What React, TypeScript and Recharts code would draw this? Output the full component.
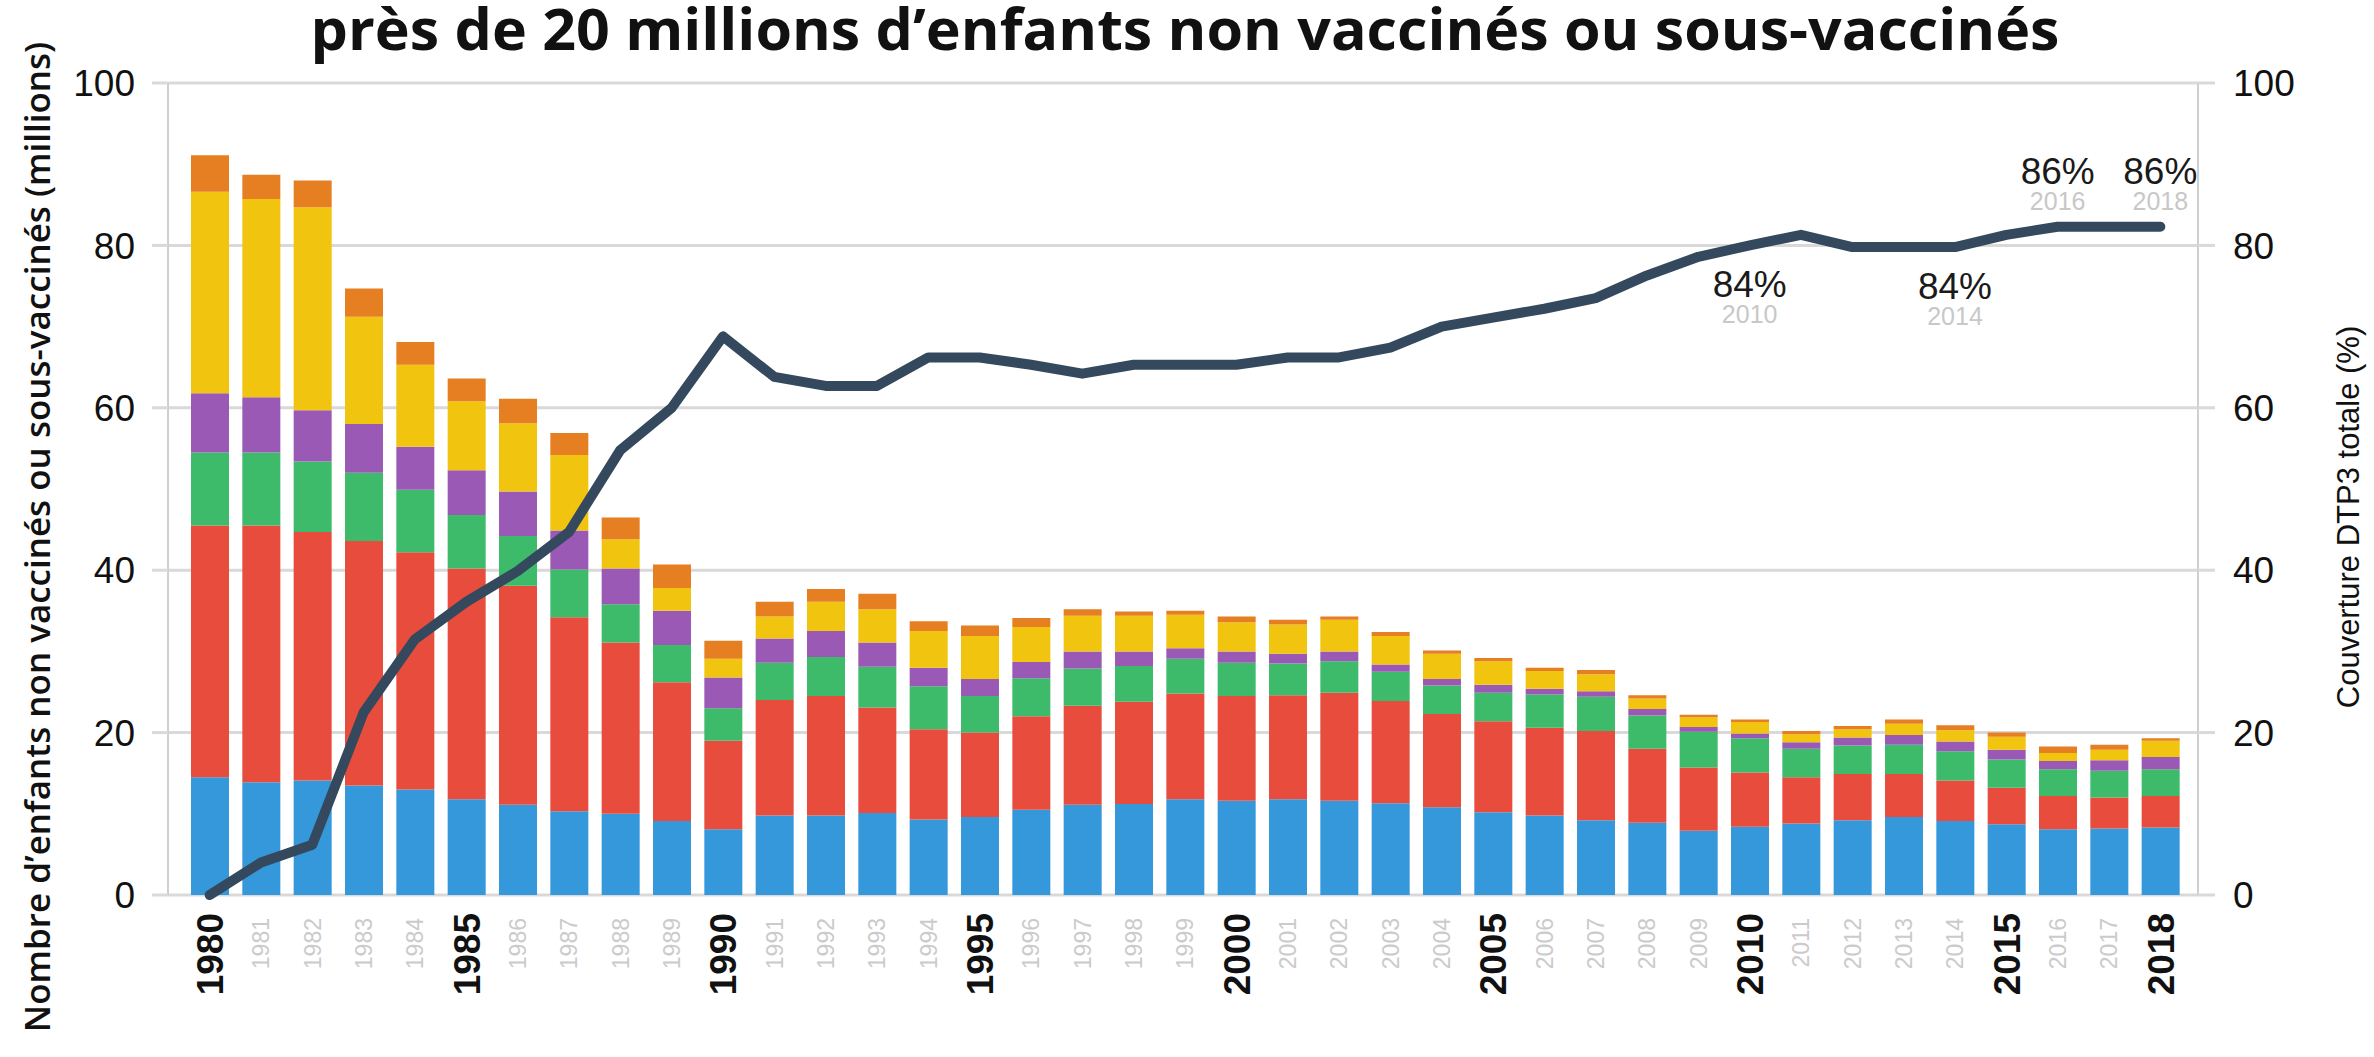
import React from 'react';
import { ComposedChart, Bar, Line, XAxis, YAxis, CartesianGrid, LabelList } from 'recharts';

const years = [
  '1980', '1981', '1982', '1983', '1984', '1985', '1986', '1987', '1988', '1989',
  '1990', '1991', '1992', '1993', '1994', '1995', '1996', '1997', '1998', '1999',
  '2000', '2001', '2002', '2003', '2004', '2005', '2006', '2007', '2008', '2009',
  '2010', '2011', '2012', '2013', '2014', '2015', '2016', '2017', '2018',
];

// stacked segments, millions of children (bottom to top)
const blue = [14.5, 13.9, 14.1, 13.5, 13.0, 11.8, 11.1, 10.3, 10.0, 9.1, 8.1, 9.8, 9.8, 10.1, 9.3, 9.6, 10.5, 11.1, 11.2, 11.8, 11.6, 11.8, 11.6, 11.3, 10.8, 10.2, 9.8, 9.2, 8.9, 7.9, 8.4, 8.8, 9.2, 9.6, 9.1, 8.7, 8.1, 8.2, 8.3];
const red = [31.0, 31.6, 30.6, 30.1, 29.2, 28.4, 27.0, 23.9, 21.1, 17.1, 10.9, 14.2, 14.7, 13.0, 11.1, 10.4, 11.5, 12.2, 12.6, 13.0, 12.9, 12.8, 13.3, 12.6, 11.5, 11.2, 10.8, 11.0, 9.1, 7.8, 6.7, 5.7, 5.7, 5.3, 5.0, 4.5, 4.1, 3.8, 3.9];
const green = [9.0, 9.0, 8.7, 8.4, 7.7, 6.6, 6.1, 5.9, 4.7, 4.6, 4.0, 4.6, 4.8, 5.0, 5.3, 4.5, 4.7, 4.6, 4.4, 4.3, 4.1, 3.9, 3.9, 3.6, 3.5, 3.5, 4.1, 4.2, 4.1, 4.4, 4.2, 3.5, 3.5, 3.6, 3.6, 3.5, 3.3, 3.3, 3.3];
const purple = [7.3, 6.8, 6.3, 6.0, 5.3, 5.5, 5.5, 4.8, 4.4, 4.2, 3.8, 3.0, 3.2, 3.0, 2.3, 2.1, 2.0, 2.1, 1.8, 1.3, 1.4, 1.2, 1.2, 0.9, 0.8, 1.0, 0.7, 0.7, 0.8, 0.6, 0.6, 0.8, 1.0, 1.2, 1.2, 1.2, 1.0, 1.3, 1.5];
const yellow = [24.8, 24.4, 25.0, 13.2, 10.1, 8.5, 8.4, 9.3, 3.6, 2.8, 2.3, 2.7, 3.6, 4.1, 4.5, 5.3, 4.3, 4.4, 4.4, 4.1, 3.6, 3.6, 3.9, 3.5, 3.1, 2.9, 2.2, 2.1, 1.3, 1.2, 1.4, 1.0, 1.0, 1.4, 1.4, 1.6, 1.0, 1.3, 2.0];
const orange = [4.5, 3.0, 3.3, 3.5, 2.8, 2.8, 3.0, 2.7, 2.7, 2.9, 2.2, 1.8, 1.6, 1.9, 1.2, 1.3, 1.1, 0.8, 0.5, 0.5, 0.7, 0.6, 0.4, 0.5, 0.4, 0.4, 0.4, 0.5, 0.4, 0.3, 0.3, 0.4, 0.4, 0.5, 0.6, 0.5, 0.8, 0.6, 0.3];

// DTP3 coverage (%), right axis
const coverage = [0, 4, 6.2, 22.5, 31.5, 36.1, 39.9, 44.7, 54.8, 60, 68.8, 63.8, 62.7, 62.7, 66.2, 66.2, 65.3, 64.2, 65.3, 65.3, 65.3, 66.2, 66.2, 67.4, 70, 71.1, 72.2, 73.5, 76.3, 78.6, 80, 81.3, 79.8, 79.8, 79.8, 81.3, 82.3, 82.3, 82.3];

const annotYears = ['2010', '2014', '2016', '2018'];
const annotText = ['84%', '84%', '86%', '86%'];

const axisTicks = [0, 20, 40, 60, 80, 100];

const data = years.map((year, i) => ({
  year,
  blue: blue[i],
  red: red[i],
  green: green[i],
  purple: purple[i],
  yellow: yellow[i],
  orange: orange[i],
  coverage: coverage[i],
}));

const SANS = '"Liberation Sans", Arial, Helvetica, sans-serif';
const GRID = '#d9d9d9';

const XTick = (props: any) => {
  const { x, y, payload } = props;
  const yr = Number(payload.value);
  const major = yr % 5 === 0 || yr === 2018;
  return (
    <text
      transform={`translate(${x},${y + (major ? 0 : 5)}) rotate(-90)`}
      textAnchor="end"
      dy="0.36em"
      fontFamily={SANS}
      fontSize={major ? 37 : 23}
      fontWeight={major ? 700 : 400}
      fill={major ? '#111' : '#cbcbcb'}
    >
      {payload.value}
    </text>
  );
};

// percentage callouts on the coverage line
const renderAnnot = (props: any) => {
  const { x, y, index } = props;
  const k = annotYears.indexOf(years[index]);
  if (k < 0) return <g />;
  const below = Number(years[index]) < 2015;
  const main = below ? y + 52 : y - 43;
  const sub = below ? y + 78 : y - 17;
  return (
    <g>
      <text x={x} y={main} textAnchor="middle" fontFamily={SANS} fontSize={37} fill="#1a1a1a">
        {annotText[k]}
      </text>
      <text x={x} y={sub} textAnchor="middle" fontFamily={SANS} fontSize={25} fill="#c8c8c8">
        {years[index]}
      </text>
    </g>
  );
};

const App: React.FC = () => {
  const W = 2374;
  const H = 1057;
  return (
    <div style={{ position: 'relative', width: W, height: H, background: '#fff' }}>
      <style>{'body{margin:0;}'}</style>
      <ComposedChart
        width={W}
        height={H}
        data={data}
        margin={{ top: 83, right: 0, left: 0, bottom: 0 }}
        barSize={38}
      >
        <CartesianGrid vertical={false} stroke={GRID} strokeWidth={3} yAxisId="left" />
        <XAxis
          dataKey="year"
          interval={0}
          height={162}
          axisLine={false}
          tickLine={false}
          tickSize={0}
          tickMargin={18}
          padding={{ left: 16, right: 12 }}
          tick={<XTick />}
        />
        <YAxis
          yAxisId="left"
          domain={[0, 100]}
          ticks={axisTicks}
          width={168}
          axisLine={{ stroke: '#cfcfcf', strokeWidth: 2 }}
          tickLine={{ stroke: GRID, strokeWidth: 3 }}
          tickSize={16}
          tickMargin={17}
          tick={{ fontSize: 37, fill: '#111', fontFamily: SANS }}
        />
        <YAxis
          yAxisId="right"
          orientation="right"
          domain={[0, 100]}
          ticks={axisTicks}
          width={176}
          axisLine={{ stroke: '#cfcfcf', strokeWidth: 2 }}
          tickLine={{ stroke: GRID, strokeWidth: 3 }}
          tickSize={17}
          tickMargin={18}
          tick={{ fontSize: 37, fill: '#111', fontFamily: SANS }}
        />
        <Bar yAxisId="left" dataKey="blue" stackId="a" fill="#3498db" isAnimationActive={false} />
        <Bar yAxisId="left" dataKey="red" stackId="a" fill="#e74c3c" isAnimationActive={false} />
        <Bar yAxisId="left" dataKey="green" stackId="a" fill="#3dba6a" isAnimationActive={false} />
        <Bar yAxisId="left" dataKey="purple" stackId="a" fill="#9b59b6" isAnimationActive={false} />
        <Bar yAxisId="left" dataKey="yellow" stackId="a" fill="#f1c40f" isAnimationActive={false} />
        <Bar yAxisId="left" dataKey="orange" stackId="a" fill="#e67e22" isAnimationActive={false} />
        <Line
          yAxisId="right"
          type="linear"
          dataKey="coverage"
          stroke="#34495e"
          strokeWidth={10}
          strokeLinecap="round"
          strokeLinejoin="round"
          dot={false}
          isAnimationActive={false}
        >
          <LabelList dataKey="coverage" content={renderAnnot} />
        </Line>
      </ComposedChart>
      <svg width={W} height={H} style={{ position: 'absolute', left: 0, top: 0, pointerEvents: 'none' }}>
        <text
          x={1185}
          y={50}
          textAnchor="middle"
          textLength={1749}
          lengthAdjust="spacingAndGlyphs"
          fontFamily="'Open Sans', Lato, sans-serif"
          fontWeight={700}
          fontSize={58}
          fill="#111"
        >
          près de 20 millions d’enfants non vaccinés ou sous-vaccinés
        </text>
        <text
          transform="translate(38,537) rotate(-90)"
          textAnchor="middle"
          dy="0.35em"
          fontFamily="'Open Sans', sans-serif"
          fontWeight={600}
          fontSize={35}
          fill="#111"
        >
          Nombre d’enfants non vaccinés ou sous-vaccinés (millions)
        </text>
        <text
          transform="translate(2348,517) rotate(-90)"
          textAnchor="middle"
          dy="0.35em"
          fontFamily={SANS}
          fontSize={31}
          fill="#111"
        >
          Couverture DTP3 totale (%)
        </text>
      </svg>
    </div>
  );
};

export default App;
